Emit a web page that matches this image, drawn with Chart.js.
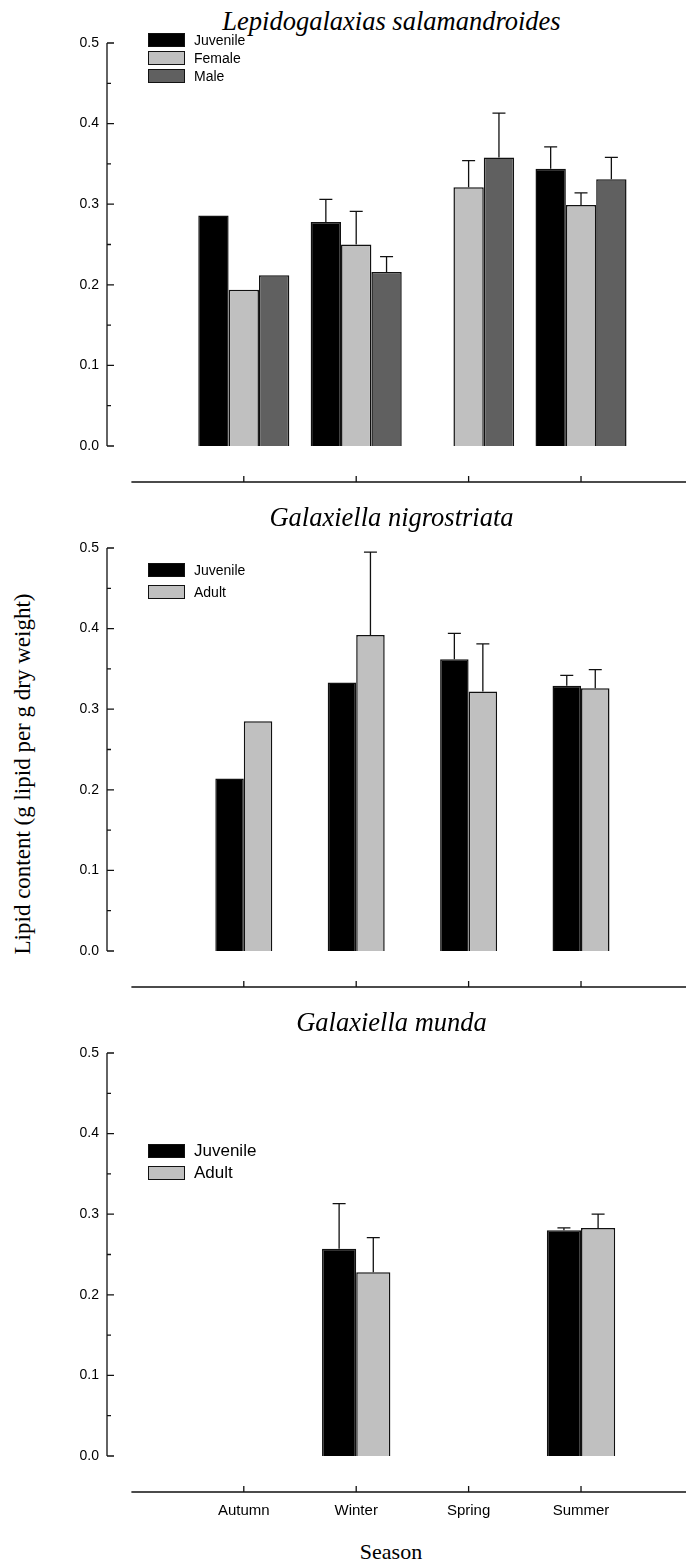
<!DOCTYPE html>
<html>
<head>
<meta charset="utf-8">
<script src="https://cdn.jsdelivr.net/npm/chart.js@4.4.1/dist/chart.umd.min.js"></script>
<style>
  body { margin: 0; background: #fff; width: 686px; height: 1564px; position: relative; overflow: hidden; }
  .panel { position: absolute; left: 0; width: 686px; }
  .title { position: absolute; left: 97px; width: 589px; text-align: center; font: italic 26.5px "Liberation Serif", "Times New Roman", serif; line-height: 30px; }
  .legend { position: absolute; left: 148px; font-family: "Liberation Sans", Arial, sans-serif; color: #000; }
  .legend div { position: relative; }
  .legend span.box { position: absolute; left: 0; width: 35px; height: 12px; border: 1px solid #111; }
  .legend span.txt { position: absolute; left: 46px; white-space: nowrap; }
  .ylab { position: absolute; left: 23px; top: 774px; transform: translate(-50%, -50%) rotate(-90deg); white-space: nowrap; font: 23px "Liberation Serif", "Times New Roman", serif; }
  .xlab { position: absolute; left: 391px; top: 1552px; transform: translate(-50%, -50%); font: 22px "Liberation Serif", "Times New Roman", serif; }
</style>
</head>
<body>
<div class="ylab">Lipid content (g lipid per g dry weight)</div>
<div class="xlab">Season</div>

<script>
// x categories
const seasons = ['Autumn', 'Winter', 'Spring', 'Summer'];
const yTicks = [0, 0.1, 0.2, 0.3, 0.4, 0.5];

// Lepidogalaxias salamandroides
const lepJuvenile = [0.286, 0.278, null, 0.344];
const lepJuvenileErr = [null, 0.306, null, 0.371];
const lepFemale = [0.194, 0.250, 0.321, 0.299];
const lepFemaleErr = [null, 0.291, 0.354, 0.314];
const lepMale = [0.212, 0.216, 0.358, 0.331];
const lepMaleErr = [null, 0.235, 0.413, 0.358];

// Galaxiella nigrostriata
const nigJuvenile = [0.214, 0.333, 0.362, 0.329];
const nigJuvenileErr = [null, null, 0.394, 0.342];
const nigAdult = [0.285, 0.392, 0.322, 0.326];
const nigAdultErr = [null, 0.495, 0.381, 0.349];

// Galaxiella munda
const munJuvenile = [null, 0.257, null, 0.280];
const munJuvenileErr = [null, 0.313, null, 0.283];
const munAdult = [null, 0.228, null, 0.283];
const munAdultErr = [null, 0.271, null, 0.300];

const BLACK = '#000000', LIGHT = '#c0c0c0', DARK = '#606060';

// offset axes like SigmaPlot + error bars
const sigmaAxes = {
  id: 'sigmaAxes',
  afterDatasetsDraw(chart, args, opts) {
    const ctx = chart.ctx;
    const xs = chart.scales.x, ys = chart.scales.y;
    const a = chart.chartArea;
    ctx.save();
    ctx.strokeStyle = '#111';
    ctx.lineWidth = 1.3;

    // error bars
    chart.data.datasets.forEach((ds, di) => {
      const meta = chart.getDatasetMeta(di);
      ds.errTop.forEach((e, i) => {
        if (e == null || ds.data[i].y == null) return;
        const bar = meta.data[i];
        const top = ys.getPixelForValue(e);
        ctx.beginPath();
        ctx.moveTo(bar.x, bar.y);
        ctx.lineTo(bar.x, top);
        ctx.moveTo(bar.x - 6.5, top);
        ctx.lineTo(bar.x + 6.5, top);
        ctx.stroke();
      });
    });

    // y axis
    const y0 = ys.getPixelForValue(0), y1 = ys.getPixelForValue(0.5);
    ctx.beginPath();
    ctx.moveTo(a.left, y1);
    ctx.lineTo(a.left, y0);
    for (let v = 0; v <= 0.5001; v += 0.05) {
      const p = ys.getPixelForValue(v);
      const major = Math.abs(v * 10 - Math.round(v * 10)) < 0.01;
      ctx.moveTo(a.left, p);
      ctx.lineTo(a.left + (major ? 7 : 4), p);
    }
    ctx.stroke();

    // x axis below the plot
    const yl = a.bottom + 36;
    ctx.beginPath();
    ctx.moveTo(xs.getPixelForValue(0), yl);
    ctx.lineTo(a.right, yl);
    seasons.forEach((s, i) => {
      const p = xs.getPixelForValue(i + 1);
      ctx.moveTo(p, yl);
      ctx.lineTo(p, yl - 6);
    });
    ctx.stroke();

    if (opts.labels) {
      ctx.fillStyle = '#000';
      ctx.font = '15px "Liberation Sans", Arial, sans-serif';
      ctx.textAlign = 'center';
      ctx.textBaseline = 'middle';
      seasons.forEach((s, i) => ctx.fillText(s, xs.getPixelForValue(i + 1), yl + 19));
    }
    ctx.restore();
  }
};

function makePanel(opt) {
  const panel = document.createElement('div');
  panel.className = 'panel';
  panel.style.top = opt.top + 'px';
  panel.style.height = opt.height + 'px';
  document.body.appendChild(panel);

  const title = document.createElement('div');
  title.className = 'title';
  title.style.top = (opt.titleY - 15) + 'px';
  title.textContent = opt.title;
  panel.appendChild(title);

  const canvas = document.createElement('canvas');
  canvas.width = 686;
  canvas.height = opt.height;
  canvas.style.position = 'absolute';
  canvas.style.left = '0px';
  canvas.style.top = '0px';
  panel.appendChild(canvas);

  const legend = document.createElement('div');
  legend.className = 'legend';
  legend.style.top = opt.legendTop + 'px';
  legend.style.fontSize = opt.legendFont + 'px';
  opt.series.forEach(s => {
    const row = document.createElement('div');
    row.style.height = opt.legendRow + 'px';
    row.innerHTML = '<span class="box" style="background:' + s.color + '"></span><span class="txt" style="top:' + ((14 - opt.legendFont * 1.15) / 2) + 'px">' + s.name + '</span>';
    legend.appendChild(row);
  });
  panel.appendChild(legend);

  const datasets = opt.series.map(s => ({
    label: s.name,
    data: s.values.map((v, i) => ({ x: i + 1, y: v })),
    errTop: s.err,
    backgroundColor: s.color,
    borderColor: '#111',
    borderWidth: 1.5,
    barPercentage: 1,
    categoryPercentage: opt.groupWidth
  }));

  return new Chart(canvas, {
    type: 'bar',
    data: { datasets: datasets },
    plugins: [sigmaAxes],
    options: {
      responsive: false,
      animation: false,
      layout: { padding: { top: 43, bottom: opt.height - 446, left: 0, right: 0 } },
      plugins: {
        legend: { display: false },
        tooltip: { enabled: false },
        sigmaAxes: { labels: opt.xLabels }
      },
      scales: {
        x: {
          type: 'linear',
          display: false,
          offset: false,
          bounds: 'data',
          min: -0.217,
          max: 4.934,
          afterBuildTicks: sc => { sc.ticks = seasons.map((s, i) => ({ value: i + 1 })); }
        },
        y: {
          min: 0,
          max: 0.5,
          afterBuildTicks: sc => { sc.ticks = yTicks.map(v => ({ value: v })); },
          afterFit: sc => { sc.width = 107; },
          grid: { display: false, drawTicks: false },
          border: { display: false },
          ticks: {
            padding: 8,
            color: '#000',
            font: { family: '"Liberation Sans", Arial, sans-serif', size: 14 },
            callback: v => v.toFixed(1)
          }
        }
      }
    }
  });
}

makePanel({
  top: 0, height: 505, title: 'Lepidogalaxias salamandroides', titleY: 21,
  groupWidth: 0.81, legendTop: 33, legendRow: 18, legendFont: 14, xLabels: false,
  series: [
    { name: 'Juvenile', values: lepJuvenile, err: lepJuvenileErr, color: BLACK },
    { name: 'Female', values: lepFemale, err: lepFemaleErr, color: LIGHT },
    { name: 'Male', values: lepMale, err: lepMaleErr, color: DARK }
  ]
});

makePanel({
  top: 505, height: 505, title: 'Galaxiella nigrostriata', titleY: 12,
  groupWidth: 0.507, legendTop: 58, legendRow: 22, legendFont: 14, xLabels: false,
  series: [
    { name: 'Juvenile', values: nigJuvenile, err: nigJuvenileErr, color: BLACK },
    { name: 'Adult', values: nigAdult, err: nigAdultErr, color: LIGHT }
  ]
});

makePanel({
  top: 1010, height: 554, title: 'Galaxiella munda', titleY: 12,
  groupWidth: 0.608, legendTop: 134, legendRow: 22, legendFont: 17, xLabels: true,
  series: [
    { name: 'Juvenile', values: munJuvenile, err: munJuvenileErr, color: BLACK },
    { name: 'Adult', values: munAdult, err: munAdultErr, color: LIGHT }
  ]
});
</script>
</body>
</html>
